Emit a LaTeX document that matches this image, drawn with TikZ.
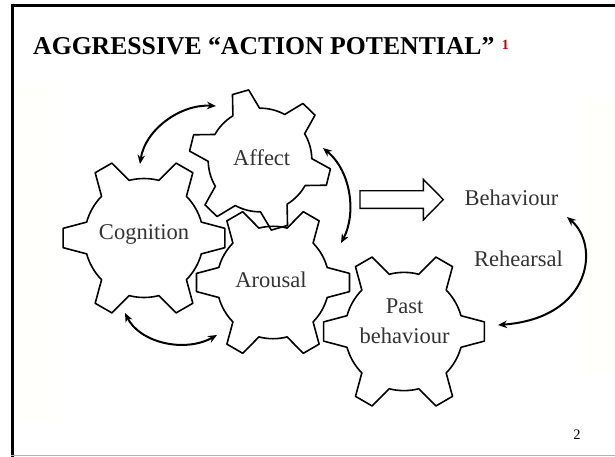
\documentclass[tikz,border=0pt]{standalone}
\usepackage{fontspec}
\setmainfont{Liberation Serif}
\usepackage{tikz}
\usetikzlibrary{arrows.meta}
\definecolor{slidecream}{RGB}{255,255,251}
\definecolor{notered}{RGB}{192,0,0}
\newcommand{\gearoutline}[3]{%
\draw[gearline,shift={#1}] ({#3-15.5}:{0.73*#2})
  \foreach \k in {0,...,5}{ -- ({#3+60*\k-6.8}:#2) -- ({#3+60*\k+6.8}:#2)
  -- ({#3+60*\k+15.5}:{0.73*#2}) arc[start angle={#3+60*\k+15.5},delta angle=29,radius={0.73*#2}]} -- cycle;}

\begin{document}
\begin{tikzpicture}[x=1pt,y=-1pt,
  gearline/.style={line width=1.6pt,line join=round},
  lab/.style={font=\fontsize{22.5}{30}\selectfont,text=black!80,inner sep=0pt},
  link/.style={line width=2pt,{Stealth[length=9pt,width=7.5pt]}-{Stealth[length=9pt,width=7.5pt]}}]
\useasboundingbox (0,0) rectangle (615,457);
\fill[white] (0,0) rectangle (615,457);
\fill[slidecream] (15,85) rectangle (62,420);
\fill[slidecream] (582,97) rectangle (615,377);
\draw[line width=3.5pt] (12.5,457) -- (12.5,5.5) -- (615,5.5);
\draw[gray!60,line width=1.5pt] (11,455.5) -- (615,455.5);

\node[anchor=base west,inner sep=0pt,font=\fontsize{25.7}{30}\selectfont\bfseries] (title) at (33,55) {AGGRESSIVE “ACTION POTENTIAL”};
\node[anchor=base west,inner sep=0pt,xshift=7pt,yshift=5pt,text=notered,font=\fontsize{14}{16}\selectfont\bfseries] (ref) at (title.base east) {1};

\gearoutline{(144,238)}{81.5}{0}
\gearoutline{(260,160)}{71}{14}
\gearoutline{(273,282.5)}{77}{0}
\gearoutline{(404,331.5)}{81}{0}

\node[lab,anchor=base] (cog) at (144,239.3) {Cognition};
\node[lab,anchor=base] (aff) at (261.7,166) {Affect};
\node[lab,anchor=base] (aro) at (271,287.3) {Arousal};
\node[lab,align=center] (past) at (404.5,321) {Past\\behaviour};
\node[lab,anchor=base] (beh) at (511.5,205) {Behaviour};
\node[lab,anchor=base] (reh) at (518.5,266.7) {Rehearsal};
\node[anchor=base,inner sep=0pt,font=\fontsize{14.5}{16}\selectfont] (pagenum) at (577,439.3) {2};

\draw[line width=1.4pt] (360,190.7) -- (423.3,190.7) -- (423.3,179.3) -- (443.3,199.6)
  -- (423.3,220) -- (423.3,208.3) -- (360,208.3) -- cycle;

\coordinate (cogtop) at (140,164);
\coordinate (afflft) at (216,106);
\coordinate (affrgt) at (323,148);
\coordinate (arotop) at (341,243);
\coordinate (cogbot) at (125,313);
\coordinate (arolft) at (217,335);
\coordinate (behbot) at (567,217);
\coordinate (pastrgt) at (498,325);
\draw[link] (cogtop) .. controls (145,130) and (180,104) .. (afflft);
\draw[link] (affrgt) .. controls (352,172) and (356,215) .. (arotop);
\draw[link] (cogbot) .. controls (140,343) and (185,353) .. (arolft);
\draw[link] (behbot) .. controls (600,245) and (592,318) .. (pastrgt);
\end{tikzpicture}
\end{document}
